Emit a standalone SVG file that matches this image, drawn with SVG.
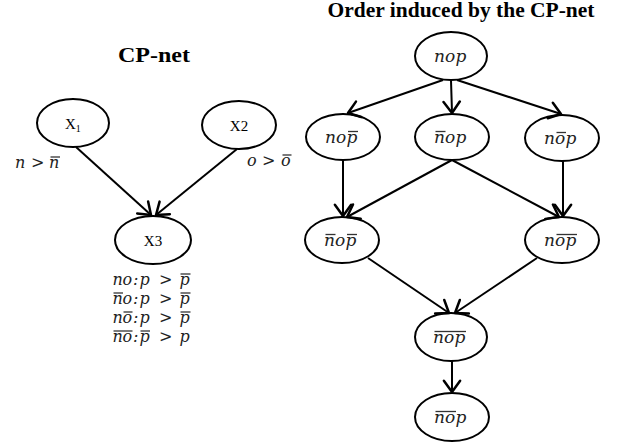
<svg xmlns="http://www.w3.org/2000/svg" width="617" height="445" viewBox="0 0 617 445">
<style>
.node ellipse{fill:none;stroke:#000;stroke-width:2}
.nm{font-family:"Liberation Serif","Times New Roman",serif;font-size:15px;fill:#000}
.m{font-family:"DejaVu Serif","Liberation Serif",serif;font-style:italic;font-size:16px;fill:#222}
.lb{font-family:"DejaVu Serif","Liberation Serif",serif;font-style:italic;font-size:17px;fill:#222}
.ttl{font-family:"Liberation Serif","Times New Roman",serif;font-weight:bold;font-size:20px;fill:#000}
.ol{stroke:#333;stroke-width:1.3}
.edge{stroke:#000;stroke-width:2;fill:none;marker-end:url(#arr)}
</style>
<defs>
<marker id="arr" markerUnits="userSpaceOnUse" markerWidth="20" markerHeight="20" viewBox="-12 -8 14 16" refX="0" refY="0" orient="auto">
<path d="M-9,-6.5 L0,0 L-9,6.5" fill="none" stroke="#000" stroke-width="2" stroke-linecap="round" stroke-linejoin="round"/>
</marker>
</defs>

<text class="ttl" x="154" y="62" text-anchor="middle" font-size="21" textLength="72" lengthAdjust="spacingAndGlyphs">CP-net</text>
<text class="ttl" x="461" y="17" text-anchor="middle" textLength="267" lengthAdjust="spacingAndGlyphs">Order induced by the CP-net</text>

<g id="connectors">
<line class="edge" x1="76" y1="147" x2="151" y2="215"/>
<line class="edge" x1="237" y1="149" x2="156" y2="215"/>
<line class="edge" x1="443" y1="80" x2="348" y2="113"/>
<line class="edge" x1="451" y1="80" x2="452" y2="113"/>
<line class="edge" x1="457" y1="80" x2="561" y2="114"/>
<line class="edge" x1="343" y1="160" x2="343" y2="216"/>
<line class="edge" x1="452" y1="160" x2="347" y2="217"/>
<line class="edge" x1="452" y1="160" x2="559" y2="217"/>
<line class="edge" x1="563" y1="161" x2="563" y2="216"/>
<line class="edge" x1="368" y1="258" x2="449" y2="313"/>
<line class="edge" x1="537" y1="258" x2="455" y2="313"/>
<line class="edge" x1="452" y1="361" x2="452" y2="392"/>
</g>

<g id="X1" class="node">
<ellipse cx="73" cy="123" rx="36" ry="24"/>
<text class="nm" x="65" y="129">X<tspan font-size="10" dy="3">1</tspan></text>
</g>
<g id="X2" class="node">
<ellipse cx="239" cy="125" rx="37" ry="24"/>
<text class="nm" x="239" y="131" text-anchor="middle">X2</text>
</g>
<g id="X3" class="node">
<ellipse cx="153" cy="240" rx="38" ry="24"/>
<text class="nm" x="153" y="246" text-anchor="middle">X3</text>
</g>

<g id="pref-X1">
<text class="m" x="15 31 49" y="168">n&gt;n</text>
<line class="ol" x1="50.5" y1="157" x2="60" y2="157"/>
</g>
<g id="pref-X2">
<text class="m" x="247 262 281" y="166">o&gt;o</text>
<line class="ol" x1="282.5" y1="155" x2="291.5" y2="155"/>
</g>

<g id="cpt-X3">
<text class="m" x="112.5 122.5 133 139.5 159 179.5" y="285">no:p&gt;p</text>
<line class="ol" x1="180.5" y1="274" x2="190.5" y2="274"/>
<text class="m" x="112.5 122.5 133 139.5 159 179.5" y="304">no:p&gt;p</text>
<line class="ol" x1="113.5" y1="293" x2="123" y2="293"/>
<line class="ol" x1="180.5" y1="293" x2="190.5" y2="293"/>
<text class="m" x="112.5 122.5 133 139.5 159 179.5" y="323">no:p&gt;p</text>
<line class="ol" x1="123.5" y1="312" x2="132.5" y2="312"/>
<line class="ol" x1="180.5" y1="312" x2="190.5" y2="312"/>
<text class="m" x="112.5 122.5 133 139.5 159 179.5" y="342">no:p&gt;p</text>
<line class="ol" x1="113.5" y1="331" x2="132.5" y2="331"/>
<line class="ol" x1="140.5" y1="331" x2="150" y2="331"/>
</g>

<g id="n-nop" class="node">
<ellipse cx="451" cy="56" rx="36" ry="24"/>
<text class="lb" x="434 445 455.5" y="62">nop</text>
</g>
<g id="n-nopb" class="node">
<ellipse cx="343" cy="137" rx="37" ry="23"/>
<text class="lb" x="325 336 346.5" y="143">nop</text>
<line class="ol" x1="348" y1="131.5" x2="358" y2="131.5"/>
</g>
<g id="n-nbop" class="node">
<ellipse cx="452" cy="137" rx="37" ry="23"/>
<text class="lb" x="434 445 455.5" y="143">nop</text>
<line class="ol" x1="435.5" y1="131.5" x2="445.5" y2="131.5"/>
</g>
<g id="n-nobp" class="node">
<ellipse cx="562" cy="138" rx="37" ry="23"/>
<text class="lb" x="544 555 565.5" y="144">nop</text>
<line class="ol" x1="556.5" y1="132.5" x2="566" y2="132.5"/>
</g>
<g id="n-nbopb" class="node">
<ellipse cx="342" cy="240" rx="37" ry="23"/>
<text class="lb" x="324 335 345.5" y="246">nop</text>
<line class="ol" x1="325.5" y1="234.5" x2="335.5" y2="234.5"/>
<line class="ol" x1="347" y1="234.5" x2="357" y2="234.5"/>
</g>
<g id="n-nobpb" class="node">
<ellipse cx="562" cy="240" rx="37" ry="23"/>
<text class="lb" x="544 555 565.5" y="246">nop</text>
<line class="ol" x1="556.5" y1="234.5" x2="577" y2="234.5"/>
</g>
<g id="n-nopall" class="node">
<ellipse cx="451" cy="337" rx="36" ry="24"/>
<text class="lb" x="433 444 454.5" y="343">nop</text>
<line class="ol" x1="434.5" y1="331.5" x2="466" y2="331.5"/>
</g>
<g id="n-nobarp" class="node">
<ellipse cx="452" cy="417" rx="37" ry="24"/>
<text class="lb" x="434 445 455.5" y="423">nop</text>
<line class="ol" x1="435.5" y1="411.5" x2="456" y2="411.5"/>
</g>
</svg>
